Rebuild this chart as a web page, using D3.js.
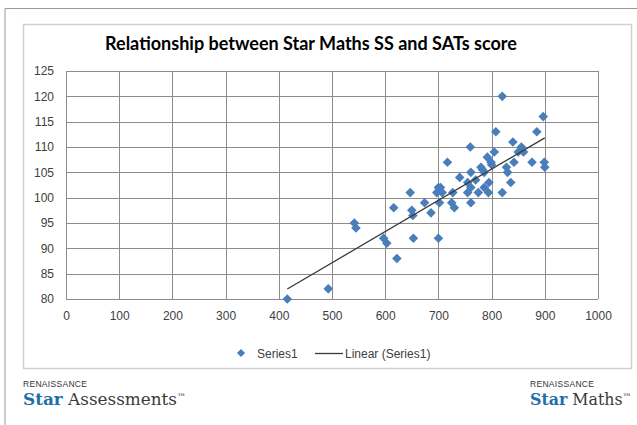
<!DOCTYPE html>
<html>
<head>
<meta charset="utf-8">
<script src="https://cdn.jsdelivr.net/npm/d3@7"></script>
<style>
  body { margin: 0; background: #fff; }
  svg { display: block; }
</style>
</head>
<body>
<div id="chart"></div>
<script>
// Star Maths scaled score (x) vs SATs score (y)
const starMathsSS = [416, 493, 542, 545, 597, 603, 622, 616, 647, 650, 652, 653, 674, 686,
  697, 700, 704, 707, 700, 702, 717, 725, 730, 727, 740, 755, 755, 761, 761, 761, 760,
  770, 775, 780, 783, 786, 786, 792, 795, 794, 799, 800, 805, 808, 820, 820, 828, 830,
  836, 840, 842, 850, 856, 860, 876, 885, 897, 899, 900];
const satsScore = [80, 82, 95, 94, 92, 91, 88, 98, 101, 97.5, 96.5, 92, 99, 97,
  101, 102, 102, 101, 92, 99, 107, 99, 98, 101, 104, 101, 103, 105, 102, 99, 110,
  103.5, 101, 106, 105.5, 105, 102, 108, 103, 101, 107, 106.5, 109, 113, 120, 101, 106, 105,
  103, 111, 107, 109, 110, 109, 107, 113, 116, 107, 106];

const xTicks = [0, 100, 200, 300, 400, 500, 600, 700, 800, 900, 1000];
const yTicks = [80, 85, 90, 95, 100, 105, 110, 115, 120, 125];

const chartTitle = 'Relationship between Star Maths SS and SATs score';
const legendLabels = ['Series1', 'Linear (Series1)'];

const width = 637;
const height = 425;
const margin = { left: 66, right: 39, top: 71, bottom: 126 };

const svg = d3.select('#chart')
  .append('svg')
  .attr('width', width)
  .attr('height', height)
  .style('font-family', "'Liberation Sans', Arial, sans-serif");

// outer frame and chart box
svg.append('path')
  .attr('d', `M5,${height} V8.5 H${width}`)
  .attr('fill', 'none')
  .attr('stroke', '#9a9a9a')
  .attr('stroke-width', 1);

svg.append('rect')
  .attr('x', 23.5).attr('y', 24.5)
  .attr('width', 608).attr('height', 344)
  .attr('fill', '#fff')
  .attr('stroke', '#d0d0d0')
  .attr('stroke-width', 1.5);

// title, fitted to the width it takes in the picture
const title = svg.append('text')
  .attr('x', 311).attr('y', 50)
  .attr('text-anchor', 'middle')
  .style('font-family', "Lato, 'Open Sans', sans-serif")
  .style('font-weight', 'bold')
  .style('font-size', '17px')
  .attr('fill', '#000')
  .text(chartTitle);
const tw = title.node().getComputedTextLength();
title.style('font-size', (17 * 412 / tw).toFixed(2) + 'px');

const x = d3.scaleLinear()
  .domain([0, 1000])
  .range([margin.left, width - margin.right]);

const y = d3.scaleLinear()
  .domain([80, 125])
  .range([height - margin.bottom, margin.top]);

// gridlines
svg.append('g')
  .selectAll('line')
  .data(xTicks)
  .enter()
  .append('line')
  .attr('x1', d => Math.round(x(d)) + 0.5)
  .attr('x2', d => Math.round(x(d)) + 0.5)
  .attr('y1', y(125))
  .attr('y2', y(80))
  .attr('stroke', '#8c8c8c');

svg.append('g')
  .selectAll('line')
  .data(yTicks)
  .enter()
  .append('line')
  .attr('x1', x(0))
  .attr('x2', x(1000))
  .attr('y1', d => Math.round(y(d)) + 0.5)
  .attr('y2', d => Math.round(y(d)) + 0.5)
  .attr('stroke', '#8c8c8c');

// axes (labels only, lines come from the grid)
const xAxis = d3.axisBottom(x).tickValues(xTicks).tickFormat(d3.format('d')).tickSize(0).tickPadding(12);
const yAxis = d3.axisLeft(y).tickValues(yTicks).tickSize(0).tickPadding(12);

svg.append('g')
  .attr('transform', 'translate(0,' + y(80) + ')')
  .call(xAxis)
  .call(g => g.select('.domain').remove())
  .selectAll('text')
  .style('font-size', '12px')
  .style('font-family', "'Liberation Sans', Arial, sans-serif")
  .attr('fill', '#404040');

svg.append('g')
  .attr('transform', 'translate(' + x(0) + ',0)')
  .call(yAxis)
  .call(g => g.select('.domain').remove())
  .selectAll('text')
  .style('font-size', '12px')
  .style('font-family', "'Liberation Sans', Arial, sans-serif")
  .attr('fill', '#404040');

// linear trend line (least squares on the points)
const n = starMathsSS.length;
const mx = d3.mean(starMathsSS);
const my = d3.mean(satsScore);
let sxy = 0, sxx = 0;
for (let i = 0; i < n; i++) {
  sxy += (starMathsSS[i] - mx) * (satsScore[i] - my);
  sxx += (starMathsSS[i] - mx) ** 2;
}
const slope = sxy / sxx;
const intercept = my - slope * mx;
const xMin = d3.min(starMathsSS), xMax = d3.max(starMathsSS);

// points
const diamond = d3.symbol().type(d3.symbolSquare).size(46);

svg.append('g')
  .selectAll('path')
  .data(starMathsSS.map((v, i) => [v, satsScore[i]]))
  .enter()
  .append('path')
  .attr('d', diamond)
  .attr('transform', d => `translate(${x(d[0])},${y(d[1])}) rotate(45)`)
  .attr('fill', '#4a7ebb');

svg.append('line')
  .attr('x1', x(xMin)).attr('y1', y(intercept + slope * xMin))
  .attr('x2', x(xMax)).attr('y2', y(intercept + slope * xMax))
  .attr('stroke', '#3a3a3a')
  .attr('stroke-width', 1.3);

// legend
const legend = svg.append('g').attr('transform', 'translate(0,353)');
legend.append('path')
  .attr('d', d3.symbol().type(d3.symbolSquare).size(34))
  .attr('transform', 'translate(241,0) rotate(45)')
  .attr('fill', '#4a7ebb');
legend.append('text')
  .attr('x', 257).attr('y', 4.5)
  .style('font-size', '12px')
  .attr('fill', '#404040')
  .text(legendLabels[0]);
legend.append('line')
  .attr('x1', 315).attr('x2', 343)
  .attr('y1', 0.5).attr('y2', 0.5)
  .attr('stroke', '#3a3a3a')
  .attr('stroke-width', 1.3);
legend.append('text')
  .attr('x', 345).attr('y', 4.5)
  .style('font-size', '12px')
  .attr('fill', '#404040')
  .text(legendLabels[1]);

// footer logos
function logo(x0, word, targetWidth) {
  const g = svg.append('g');
  g.append('text')
    .attr('x', x0).attr('y', 387)
    .style('font-size', '8.5px')
    .style('letter-spacing', '0.3px')
    .attr('fill', '#333')
    .text('RENAISSANCE');
  const t = g.append('text')
    .attr('x', x0).attr('y', 405)
    .style('font-family', "'DejaVu Serif', serif")
    .style('font-size', '19px');
  t.append('tspan').attr('fill', '#1e6ea8').style('font-weight', 'bold').text('Star');
  t.append('tspan').attr('fill', '#3a3a3a').text(' ' + word);
  t.append('tspan').attr('fill', '#3a3a3a').style('font-size', '9px').attr('dy', -5).text('™');
  const w = t.node().getComputedTextLength();
  t.style('font-size', (19 * targetWidth / w).toFixed(2) + 'px');
}
logo(23, 'Assessments', 162);
logo(530, 'Maths', 100);
</script>
</body>
</html>
